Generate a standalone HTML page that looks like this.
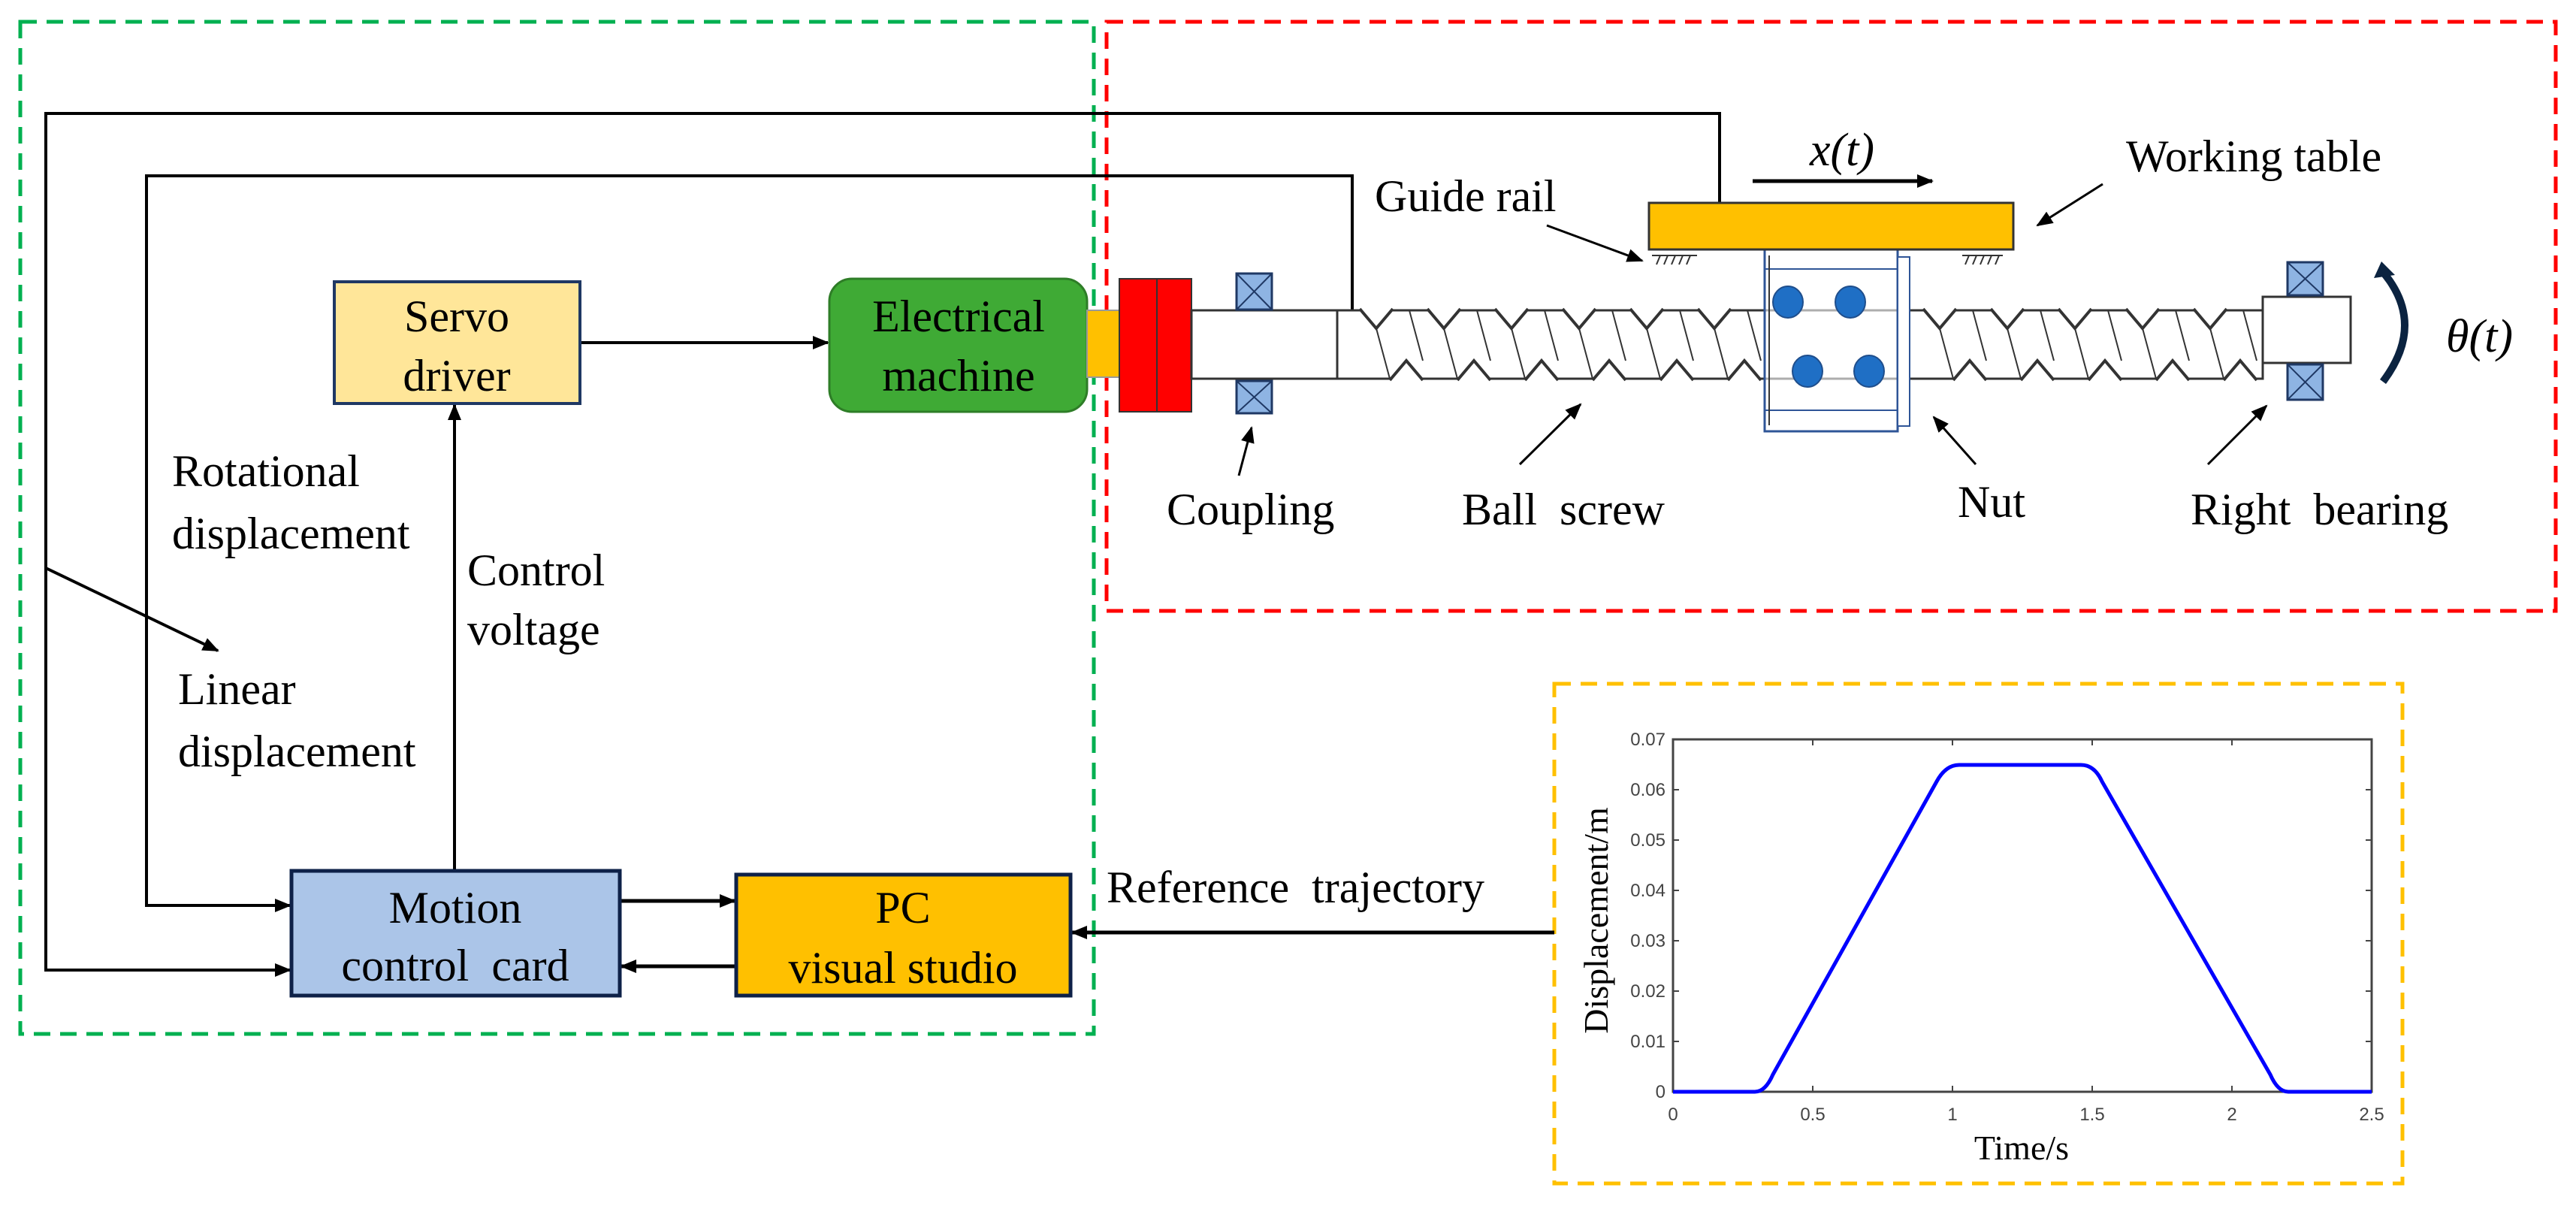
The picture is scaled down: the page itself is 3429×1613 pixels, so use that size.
<!DOCTYPE html>
<html><head><meta charset="utf-8"><style>
html,body{margin:0;padding:0;background:#fff;}
svg{display:block;}
text{font-family:"Liberation Serif",serif;fill:#000;}
.s{font-family:"Liberation Sans",sans-serif;fill:#444;font-size:24px;}
</style></head><body>
<svg width="3429" height="1613" viewBox="0 0 3429 1613" xmlns="http://www.w3.org/2000/svg">
<defs>
<marker id="b" markerWidth="22" markerHeight="22" refX="20" refY="11" orient="auto" markerUnits="userSpaceOnUse" viewBox="0 0 22 22"><path d="M0,2 L22,11 L0,20 z" fill="#000"/></marker>
</defs>
<rect x="27" y="29" width="1429" height="1347" fill="none" stroke="#00B050" stroke-width="5" stroke-dasharray="22 13"/>
<rect x="1473" y="29" width="1929" height="784" fill="none" stroke="#FF0000" stroke-width="5" stroke-dasharray="22 13"/>
<rect x="2069" y="910" width="1129" height="665" fill="none" stroke="#FFC000" stroke-width="5" stroke-dasharray="22 13"/>

<polyline points="2289,270 2289,151 61,151 61,1291 386,1291" fill="none" stroke="#000" stroke-width="4" marker-end="url(#b)"/>
<polyline points="1800,413 1800,234 195,234 195,1205 386,1205" fill="none" stroke="#000" stroke-width="4" marker-end="url(#b)"/>
<line x1="61" y1="756" x2="290" y2="866" stroke="#000" stroke-width="4" marker-end="url(#b)"/>
<line x1="772" y1="456" x2="1102" y2="456" stroke="#000" stroke-width="4" marker-end="url(#b)"/>
<line x1="605" y1="1159" x2="605" y2="539" stroke="#000" stroke-width="4" marker-end="url(#b)"/>
<line x1="825" y1="1199" x2="978" y2="1199" stroke="#000" stroke-width="5" marker-end="url(#b)"/>
<line x1="980" y1="1286" x2="827" y2="1286" stroke="#000" stroke-width="5" marker-end="url(#b)"/>
<line x1="2069" y1="1241" x2="1427" y2="1241" stroke="#000" stroke-width="5" marker-end="url(#b)"/>

<rect x="445" y="375" width="327" height="162" fill="#FFE699" stroke="#1F3864" stroke-width="4"/>
<text x="608" y="441" font-size="60" text-anchor="middle">Servo</text>
<text x="608" y="520" font-size="60" text-anchor="middle">driver</text>
<rect x="1104" y="371" width="343" height="177" rx="30" fill="#3FAA35" stroke="#2E7D27" stroke-width="3"/>
<text x="1276" y="441" font-size="60" text-anchor="middle">Electrical</text>
<text x="1276" y="520" font-size="60" text-anchor="middle">machine</text>
<rect x="388" y="1159" width="437" height="166" fill="#ABC5E8" stroke="#0E2148" stroke-width="5"/>
<text x="606" y="1228" font-size="60" text-anchor="middle">Motion</text>
<text x="606" y="1305" font-size="60" text-anchor="middle" xml:space="preserve">control  card</text>
<rect x="980" y="1164" width="445" height="161" fill="#FFC000" stroke="#0E2148" stroke-width="5"/>
<text x="1202" y="1228" font-size="60" text-anchor="middle">PC</text>
<text x="1202" y="1308" font-size="60" text-anchor="middle">visual studio</text>

<text x="229" y="647" font-size="60">Rotational</text>
<text x="229" y="730" font-size="60">displacement</text>
<text x="622" y="779" font-size="60">Control</text>
<text x="622" y="858" font-size="60">voltage</text>
<text x="237" y="937" font-size="60">Linear</text>
<text x="237" y="1020" font-size="60">displacement</text>
<text x="1473" y="1201" font-size="60" xml:space="preserve">Reference  trajectory</text>

<rect x="1447" y="413" width="43" height="89" fill="#FFC000" stroke="#999" stroke-width="2"/>
<rect x="1490" y="371" width="96" height="177" fill="#FF0000" stroke="#333" stroke-width="2"/>
<line x1="1540" y1="371" x2="1540" y2="548" stroke="#333" stroke-width="2"/>
<rect x="1586" y="413" width="194" height="91" fill="#fff" stroke="#333" stroke-width="3"/>
<rect x="1780" y="413" width="1232" height="91" fill="#fff" stroke="#333" stroke-width="3"/>
<g stroke="#333" stroke-width="4" fill="#fff">
<path d="M1810,411 l22,26 l22,-26 M1900,411 l22,26 l22,-26 M1990,411 l22,26 l22,-26 M2080,411 l22,26 l22,-26 M2170,411 l22,26 l22,-26 M2260,411 l22,26 l22,-26 M2560,411 l22,26 l22,-26 M2650,411 l22,26 l22,-26 M2740,411 l22,26 l22,-26 M2830,411 l22,26 l22,-26 M2920,411 l22,26 l22,-26"/>
<path d="M1850,506 l22,-26 l22,26 M1940,506 l22,-26 l22,26 M2030,506 l22,-26 l22,26 M2120,506 l22,-26 l22,26 M2210,506 l22,-26 l22,26 M2300,506 l22,-26 l22,26 M2600,506 l22,-26 l22,26 M2690,506 l22,-26 l22,26 M2780,506 l22,-26 l22,26 M2870,506 l22,-26 l22,26 M2960,506 l22,-26 l22,26"/>
</g>
<g stroke="#333" stroke-width="2" fill="none">
<path d="M1832,437 l18,67 M1876,413 l18,67 M1922,437 l18,67 M1966,413 l18,67 M2012,437 l18,67 M2056,413 l18,67 M2102,437 l18,67 M2146,413 l18,67 M2192,437 l18,67 M2236,413 l18,67 M2282,437 l18,67 M2326,413 l18,67 M2582,437 l18,67 M2626,413 l18,67 M2672,437 l18,67 M2716,413 l18,67 M2762,437 l18,67 M2806,413 l18,67 M2852,437 l18,67 M2896,413 l18,67 M2942,437 l18,67 M2986,413 l18,67"/>
</g>
<rect x="3012" y="395" width="117" height="88" fill="#fff" stroke="#333" stroke-width="3"/>
<rect x="2349" y="332" width="177" height="242" fill="#fff" fill-opacity="0.6" stroke="#2F5597" stroke-width="3"/>
<line x1="2349" y1="358" x2="2526" y2="358" stroke="#2F5597" stroke-width="2"/>
<line x1="2349" y1="546" x2="2526" y2="546" stroke="#2F5597" stroke-width="2"/>
<line x1="2355" y1="340" x2="2355" y2="566" stroke="#333" stroke-width="2"/>
<rect x="2526" y="342" width="16" height="225" fill="#fff" stroke="#2F5597" stroke-width="2"/>
<g fill="#1F6FC5" stroke="#1F4E8C" stroke-width="2">
<ellipse cx="2380" cy="402" rx="20" ry="21"/><ellipse cx="2463" cy="402" rx="20" ry="21"/>
<ellipse cx="2406" cy="494" rx="20" ry="21"/><ellipse cx="2488" cy="494" rx="20" ry="21"/>
</g>
<g fill="#8EB4E3" stroke="#1F3864" stroke-width="3">
<rect x="1646" y="364" width="47" height="48"/><rect x="1646" y="507" width="47" height="43"/>
<rect x="3045" y="349" width="47" height="44"/><rect x="3045" y="485" width="47" height="47"/>
</g>
<g stroke="#1F3864" stroke-width="2">
<path d="M1646,364 L1693,412 M1693,364 L1646,412 M1646,507 L1693,550 M1693,507 L1646,550 M3045,349 L3092,393 M3092,349 L3045,393 M3045,485 L3092,532 M3092,485 L3045,532"/>
</g>
<rect x="2195" y="270" width="485" height="62" fill="#FFC000" stroke="#333" stroke-width="3"/>
<g stroke="#333" stroke-width="2">
<line x1="2199" y1="340" x2="2259" y2="340"/><path d="M2205,352 l5,-12 M2215,352 l5,-12 M2225,352 l5,-12 M2235,352 l5,-12 M2245,352 l5,-12"/>
<line x1="2612" y1="340" x2="2666" y2="340"/><path d="M2616,352 l5,-12 M2626,352 l5,-12 M2636,352 l5,-12 M2646,352 l5,-12 M2656,352 l5,-12"/>
</g>
<line x1="2333" y1="241" x2="2572" y2="241" stroke="#000" stroke-width="5" marker-end="url(#b)"/>
<text x="2452" y="220" font-size="62" font-style="italic" text-anchor="middle">x(t)</text>
<text x="2830" y="228" font-size="60">Working table</text>
<line x1="2799" y1="245" x2="2712" y2="300" stroke="#000" stroke-width="3" marker-end="url(#b)"/>
<text x="1830" y="281" font-size="60">Guide rail</text>
<line x1="2059" y1="300" x2="2186" y2="347" stroke="#000" stroke-width="3" marker-end="url(#b)"/>
<path d="M3172,362 Q3230,431 3172,508" fill="none" stroke="#0B2340" stroke-width="10"/>
<path d="M3160,370 L3170,348 L3188,366 z" fill="#0B2340"/>
<text x="3256" y="468" font-size="62" font-style="italic">θ(t)</text>
<text x="1553" y="698" font-size="60">Coupling</text>
<line x1="1649" y1="633" x2="1666" y2="569" stroke="#000" stroke-width="3" marker-end="url(#b)"/>
<text x="1946" y="698" font-size="60" xml:space="preserve">Ball  screw</text>
<line x1="2023" y1="618" x2="2104" y2="538" stroke="#000" stroke-width="3" marker-end="url(#b)"/>
<text x="2606" y="688" font-size="60">Nut</text>
<line x1="2630" y1="618" x2="2574" y2="555" stroke="#000" stroke-width="3" marker-end="url(#b)"/>
<text x="2916" y="698" font-size="60" xml:space="preserve">Right  bearing</text>
<line x1="2939" y1="618" x2="3017" y2="540" stroke="#000" stroke-width="3" marker-end="url(#b)"/>

<rect x="2227" y="984" width="930" height="469" fill="#fff" stroke="#444" stroke-width="3"/>
<g stroke="#444" stroke-width="2">
<path d="M2413,1453 v-8 M2599,1453 v-8 M2785,1453 v-8 M2971,1453 v-8 M2413,984 v8 M2599,984 v8 M2785,984 v8 M2971,984 v8"/>
<path d="M2227,1386 h8 M2227,1319 h8 M2227,1252 h8 M2227,1185 h8 M2227,1118 h8 M2227,1051 h8 M3157,1386 h-8 M3157,1319 h-8 M3157,1252 h-8 M3157,1185 h-8 M3157,1118 h-8 M3157,1051 h-8"/>
</g>
<path d="M2227,1453 L2336,1453 Q2350,1453 2360,1430 L2578,1040 Q2590,1018 2608,1018 L2770,1018 Q2788,1018 2798,1040 L3022,1430 Q3032,1453 3046,1453 L3157,1453" fill="none" stroke="#0000FF" stroke-width="5"/>
<g>
<text class="s" x="2217" y="992" text-anchor="end">0.07</text><text class="s" x="2217" y="1059" text-anchor="end">0.06</text><text class="s" x="2217" y="1126" text-anchor="end">0.05</text><text class="s" x="2217" y="1193" text-anchor="end">0.04</text><text class="s" x="2217" y="1260" text-anchor="end">0.03</text><text class="s" x="2217" y="1327" text-anchor="end">0.02</text><text class="s" x="2217" y="1394" text-anchor="end">0.01</text><text class="s" x="2217" y="1461" text-anchor="end">0</text>
<text class="s" x="2227" y="1491" text-anchor="middle">0</text><text class="s" x="2413" y="1491" text-anchor="middle">0.5</text><text class="s" x="2599" y="1491" text-anchor="middle">1</text><text class="s" x="2785" y="1491" text-anchor="middle">1.5</text><text class="s" x="2971" y="1491" text-anchor="middle">2</text><text class="s" x="3157" y="1491" text-anchor="middle">2.5</text>
</g>
<text x="2691" y="1543" font-size="46" text-anchor="middle">Time/s</text>
<text x="0" y="0" font-size="46" text-anchor="middle" transform="translate(2140,1225) rotate(-90)">Displacement/m</text>
</svg>
</body></html>
